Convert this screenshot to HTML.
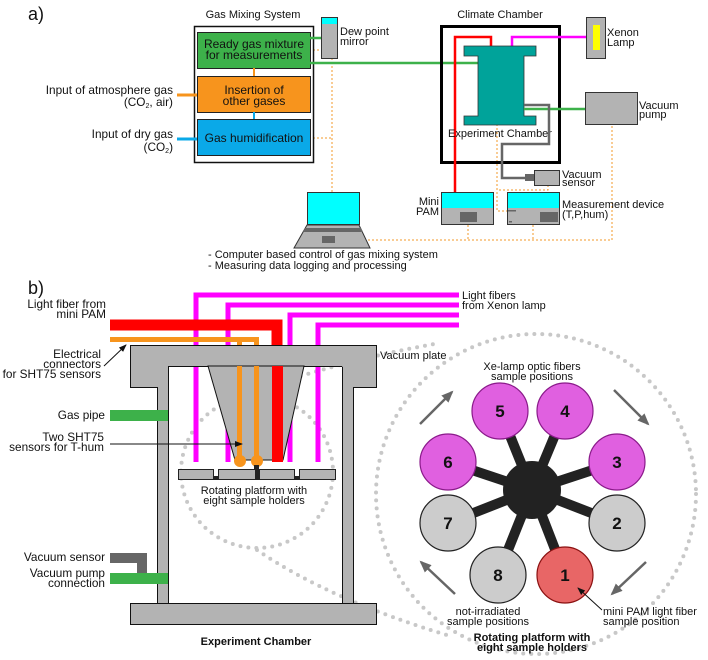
<!DOCTYPE html>
<html><head><meta charset="utf-8"><style>
html,body{margin:0;padding:0;background:#fff}
svg{display:block}
text{font-family:"Liberation Sans",sans-serif;font-size:11px;fill:#111}
.r{text-anchor:end;font-size:11.8px}.c{text-anchor:middle}
.n{font-size:17px;font-weight:bold;text-anchor:middle}
</style></head><body>
<svg width="708" height="660" viewBox="0 0 708 660" xmlns="http://www.w3.org/2000/svg">
<defs>
<marker id="ah" markerWidth="8" markerHeight="8" refX="7" refY="4" orient="auto" markerUnits="userSpaceOnUse"><path d="M0,1 L8,4 L0,7 z" fill="#111"/></marker>
<marker id="ag" markerWidth="12" markerHeight="10" refX="10" refY="5" orient="auto" markerUnits="userSpaceOnUse"><path d="M0,0 L12,5 L0,10 z" fill="#666"/></marker>
</defs>
<!-- ===== part a ===== -->
<text x="28" y="20" style="font-size:18px">a)</text>
<text x="253" y="18" class="c">Gas Mixing System</text>
<text x="500" y="18" class="c">Climate Chamber</text>
<g stroke="#f39a2a" stroke-width="1" stroke-dasharray="2,2" fill="none">
<path d="M313,50 H333 M313,138 H332 M332,50 V192"/>
<path d="M368,240 H612 V124 M468,225 V240 M533,225 V240"/>
<path d="M497,124 V211 H507 M548,185 V190 H497"/>
</g>
<rect x="194.5" y="26.5" width="119" height="136" fill="#fff" stroke="#111" stroke-width="1.5"/>
<rect x="197.5" y="32.5" width="113" height="36" fill="#3db14a" stroke="#222"/>
<rect x="197.5" y="76.5" width="113" height="36" fill="#f7941d" stroke="#222"/>
<rect x="197.5" y="119.5" width="113" height="36" fill="#0aa9e8" stroke="#222"/>
<line x1="254" y1="68" x2="254" y2="76" stroke="#f7941d" stroke-width="2"/>
<line x1="254" y1="112" x2="254" y2="119" stroke="#0aa9e8" stroke-width="2"/>
<text x="254" y="48" class="c" style="font-size:12px">Ready gas mixture</text>
<text x="254" y="59" class="c" style="font-size:12px">for measurements</text>
<text x="254" y="94" class="c" style="font-size:12px">Insertion of</text>
<text x="254" y="105" class="c" style="font-size:12px">other gases</text>
<text x="254" y="142" class="c" style="font-size:12px">Gas humidification</text>
<line x1="177" y1="95" x2="197" y2="95" stroke="#f7941d" stroke-width="3"/>
<line x1="177" y1="139" x2="197" y2="139" stroke="#0aa9e8" stroke-width="3"/>
<text x="173" y="94" class="r">Input of atmosphere gas</text>
<text x="173" y="106" class="r">(CO<tspan style="font-size:7px" dy="2">2</tspan><tspan dy="-2">, air)</tspan></text>
<text x="173" y="138" class="r">Input of dry gas</text>
<text x="173" y="151" class="r">(CO<tspan style="font-size:7px" dy="2">2</tspan><tspan dy="-2">)</tspan></text>
<line x1="310" y1="38" x2="321" y2="38" stroke="#3db14a" stroke-width="2.5"/>
<line x1="310" y1="63" x2="480" y2="63" stroke="#3db14a" stroke-width="2.5"/>
<rect x="321.5" y="17.5" width="16" height="41" fill="#b3b3b3" stroke="#333"/>
<rect x="322" y="18" width="15" height="6" fill="#00ffff"/>
<text x="340" y="35">Dew point</text><text x="340" y="45">mirror</text>
<rect x="441.5" y="26.5" width="118" height="136" fill="none" stroke="#000" stroke-width="3"/>
<path d="M455,192 V37 H491 V46" fill="none" stroke="#f00" stroke-width="2.5"/>
<path d="M512,46 V37 H586" fill="none" stroke="#f0f" stroke-width="2.5"/>
<path d="M464,46 H536 V56 H524 V116 H536 V125 H464 V116 H478 V56 H464 Z" fill="#00a39a" stroke="#333" stroke-width="0.8"/>
<text x="500" y="137" class="c">Experiment Chamber</text>
<rect x="586.5" y="17.5" width="19" height="41" fill="#b3b3b3" stroke="#333"/>
<rect x="593" y="25" width="7" height="25" fill="#ff0"/>
<text x="607" y="36">Xenon</text><text x="607" y="46">Lamp</text>
<line x1="524" y1="109" x2="585" y2="109" stroke="#3db14a" stroke-width="2.5"/>
<rect x="585.5" y="92.5" width="52" height="32" fill="#b3b3b3" stroke="#333"/>
<text x="639" y="109">Vacuum</text><text x="639" y="118">pump</text>
<path d="M524,105 H549 V144 H502 V178 H527" fill="none" stroke="#666" stroke-width="2.5"/>
<rect x="525" y="174" width="9" height="7" fill="#666"/>
<rect x="534.5" y="170.5" width="25" height="15" fill="#b3b3b3" stroke="#333"/>
<text x="562" y="178">Vacuum</text><text x="562" y="186">sensor</text>
<rect x="441.5" y="192.5" width="52" height="32" fill="#b3b3b3" stroke="#333"/>
<rect x="442" y="193" width="51" height="15" fill="#00ffff"/>
<rect x="460" y="212" width="17" height="10" fill="#666"/>
<text x="439" y="205" class="r" style="font-size:11px">Mini</text><text x="439" y="215" class="r" style="font-size:11px">PAM</text>
<rect x="507.5" y="192.5" width="52" height="32" fill="#b3b3b3" stroke="#333"/>
<rect x="508" y="193" width="51" height="15" fill="#00ffff"/>
<rect x="540" y="212" width="18" height="10" fill="#666"/>
<rect x="508" y="210" width="8" height="1.5" fill="#666"/>
<rect x="509" y="221" width="3" height="1.5" fill="#666"/>
<text x="562" y="208">Measurement device</text><text x="562" y="218">(T,P,hum)</text>
<rect x="307.5" y="192.5" width="52" height="32" fill="#00ffff" stroke="#333"/>
<path d="M307,225 H359 L370,248 H294 Z" fill="#b3b3b3" stroke="#333"/>
<path d="M305,228 H361 L363,232 H303 Z" fill="#666"/>
<rect x="322" y="236" width="13" height="7" fill="#666"/>
<text x="208" y="258">- Computer based control of gas mixing system</text>
<text x="208" y="269">- Measuring data logging and processing</text>
<!-- ===== part b ===== -->
<text x="28" y="294" style="font-size:18px">b)</text>
<g fill="none" stroke="#c8c8c8" stroke-width="4" stroke-linecap="round" stroke-dasharray="0,8">
<circle cx="257" cy="472" r="76"/>
<circle cx="536" cy="494" r="160"/>
<path d="M225,402 Q330,362 440,343"/>
<path d="M257,550 Q330,600 450,636"/>
</g>
<g fill="none" stroke="#f0f" stroke-width="5">
<path d="M196,462 V295 H459"/>
<path d="M228,462 V305 H459"/>
<path d="M290,462 V315 H459"/>
<path d="M318,462 V325 H459"/>
</g>
<text x="462" y="299">Light fibers</text><text x="462" y="309">from Xenon lamp</text>
<path d="M110,325 H277 V346" fill="none" stroke="#f00" stroke-width="11"/>
<path d="M110,339.5 H256.5 V346 M239.5,339.5 V346" fill="none" stroke="#f7941d" stroke-width="5"/>
<g fill="#b3b3b3" stroke="#111" stroke-width="1">
<path d="M130.5,345.5 H376.5 V387.5 H353.5 V603.5 H342.5 V366.5 H168.5 V603.5 H157.5 V387.5 H130.5 Z"/>
<rect x="130.5" y="603.5" width="246" height="21"/>
<path d="M208,366 H304 L283,460 H235 Z"/>
</g>
<line x1="157" y1="366" x2="168" y2="366" stroke="#b3b3b3" stroke-width="1.5"/>
<line x1="342" y1="366" x2="353" y2="366" stroke="#b3b3b3" stroke-width="1.5"/>
<rect x="272" y="366" width="11" height="96" fill="#f00"/>
<line x1="239.5" y1="366" x2="239.5" y2="460" stroke="#f7941d" stroke-width="5"/>
<line x1="256.5" y1="366" x2="256.5" y2="460" stroke="#f7941d" stroke-width="5"/>
<circle cx="240" cy="461" r="6" fill="#f7941d"/><circle cx="257" cy="461" r="6" fill="#f7941d"/>
<rect x="254" y="465" width="5" height="6" fill="#222"/>
<g fill="#b3b3b3" stroke="#222">
<rect x="178.5" y="469.5" width="35" height="10"/>
<rect x="218.5" y="469.5" width="37" height="10"/>
<rect x="259.5" y="469.5" width="35" height="10"/>
<rect x="299.5" y="469.5" width="36" height="10"/>
</g>
<rect x="213" y="476" width="6" height="4" fill="#222"/><rect x="294" y="476" width="6" height="4" fill="#222"/>
<rect x="255" y="470" width="5" height="10" fill="#222"/>
<text x="254" y="494" class="c">Rotating platform with</text>
<text x="254" y="504" class="c">eight sample holders</text>
<text x="380" y="359">Vacuum plate</text>
<text x="106" y="308" class="r">Light fiber from</text><text x="106" y="318" class="r">mini PAM</text>
<text x="101" y="358" class="r">Electrical</text><text x="101" y="368" class="r">connectors</text><text x="101" y="378" class="r">for SHT75 sensors</text>
<line x1="104" y1="366" x2="126" y2="345" stroke="#111" stroke-width="1" marker-end="url(#ah)"/>
<rect x="110" y="410" width="58" height="11" fill="#3db14a"/>
<text x="105" y="419" class="r">Gas pipe</text>
<text x="104" y="441" class="r">Two SHT75</text><text x="104" y="451" class="r">sensors for T-hum</text>
<line x1="110" y1="444" x2="242" y2="444" stroke="#111" stroke-width="1" marker-end="url(#ah)"/>
<path d="M110,558 H142 V573" fill="none" stroke="#666" stroke-width="10"/>
<rect x="110" y="573" width="58" height="11" fill="#3db14a"/>
<text x="105" y="561" class="r">Vacuum sensor</text>
<text x="105" y="577" class="r">Vacuum pump</text><text x="105" y="587" class="r">connection</text>
<text x="256" y="645" class="c" style="font-weight:bold">Experiment Chamber</text>
<g stroke="#222" stroke-width="10">
<line x1="532" y1="490" x2="500" y2="411"/><line x1="532" y1="490" x2="565" y2="411"/>
<line x1="532" y1="490" x2="448" y2="462"/><line x1="532" y1="490" x2="617" y2="462"/>
<line x1="532" y1="490" x2="448" y2="523"/><line x1="532" y1="490" x2="617" y2="523"/>
<line x1="532" y1="490" x2="498" y2="575"/><line x1="532" y1="490" x2="565" y2="575"/>
</g>
<circle cx="532" cy="490" r="29" fill="#222"/>
<g stroke-width="1.2">
<circle cx="500" cy="411" r="28" fill="#e060e0" stroke="#8a1a8a"/>
<circle cx="565" cy="411" r="28" fill="#e060e0" stroke="#8a1a8a"/>
<circle cx="448" cy="462" r="28" fill="#e060e0" stroke="#8a1a8a"/>
<circle cx="617" cy="462" r="28" fill="#e060e0" stroke="#8a1a8a"/>
<circle cx="448" cy="523" r="28" fill="#cccccc" stroke="#222"/>
<circle cx="617" cy="523" r="28" fill="#cccccc" stroke="#222"/>
<circle cx="498" cy="575" r="28" fill="#cccccc" stroke="#222"/>
<circle cx="565" cy="575" r="28" fill="#e86666" stroke="#8a1010"/>
</g>
<text x="500" y="417" class="n">5</text><text x="565" y="417" class="n">4</text>
<text x="448" y="468" class="n">6</text><text x="617" y="468" class="n">3</text>
<text x="448" y="529" class="n">7</text><text x="617" y="529" class="n">2</text>
<text x="498" y="581" class="n">8</text><text x="565" y="581" class="n">1</text>
<g stroke="#666" stroke-width="2.5">
<line x1="420" y1="424" x2="452" y2="392" marker-end="url(#ag)"/>
<line x1="614" y1="390" x2="648" y2="424" marker-end="url(#ag)"/>
<line x1="646" y1="562" x2="612" y2="594" marker-end="url(#ag)"/>
<line x1="455" y1="594" x2="421" y2="562" marker-end="url(#ag)"/>
</g>
<line x1="602" y1="610" x2="578" y2="588" stroke="#111" stroke-width="1" marker-end="url(#ah)"/>
<text x="532" y="370" class="c">Xe-lamp optic fibers</text><text x="532" y="380" class="c">sample positions</text>
<text x="488" y="615" class="c">not-irradiated</text><text x="488" y="625" class="c">sample positions</text>
<text x="603" y="615">mini PAM light fiber</text><text x="603" y="625">sample position</text>
<text x="532" y="641" class="c" style="font-weight:bold">Rotating platform with</text>
<text x="532" y="651" class="c" style="font-weight:bold">eight sample holders</text>
</svg>
</body></html>
